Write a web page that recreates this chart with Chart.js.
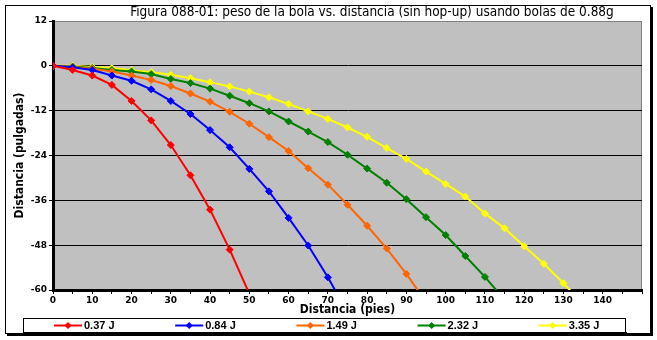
<!DOCTYPE html>
<html lang="es">
<head>
  <meta charset="UTF-8">
  <title>Figura 088-01</title>
  <script src="https://cdn.jsdelivr.net/npm/chart.js"></script>
  <style>
    body {
      margin: 0;
      background: #fff;
    }
    .container {
      width: 657px;
      height: 340px;
    }
  </style>
</head>
<body>
  <div class="container">
    <canvas id="dropChart" width="657" height="340"></canvas>
  </div>

  <script>
    // Distance in feet, one sample every 5 ft
    const distances = [0, 5, 10, 15, 20, 25, 30, 35, 40, 45, 50, 55, 60, 65, 70,
      75, 80, 85, 90, 95, 100, 105, 110, 115, 120, 125, 130, 135];

    // Drop in inches for each muzzle energy
    const drop037 = [0, -1.1, -2.6, -5.1, -9.4, -14.6, -21.2, -29.3, -38.5, -49.2, -61.0];
    const drop084 = [0, -0.4, -1.1, -2.6, -4.0, -6.3, -9.4, -12.9, -17.2, -21.8, -27.6,
      -33.6, -40.7, -48.1, -56.6, -66.0];
    const drop149 = [0, -0.3, -0.8, -1.5, -2.6, -3.8, -5.4, -7.4, -9.6, -12.3, -15.5,
      -19.1, -22.8, -27.4, -31.8, -37.2, -42.8, -48.9, -55.7, -63.2];
    const drop232 = [0, -0.2, -0.6, -1.1, -1.5, -2.2, -3.5, -4.6, -6.1, -8.0, -10.0,
      -12.2, -14.9, -17.6, -20.4, -23.8, -27.5, -31.3, -35.7, -40.5, -45.3, -50.9,
      -56.5, -62.6];
    const drop335 = [0, 0, -0.3, -0.6, -1.2, -1.7, -2.4, -3.3, -4.4, -5.5, -6.9, -8.4,
      -10.2, -12.2, -14.2, -16.5, -19.0, -22.0, -24.9, -28.3, -31.6, -35.0, -39.5,
      -43.5, -48.3, -53.0, -58.2, -63.8];

    const seriesLabels = ['0.37 J', '0.84 J', '1.49 J', '2.32 J', '3.35 J'];
    const seriesColors = ['#FF0000', '#0000FF', '#FF6600', '#008000', '#FFFF00'];
    const seriesData = [drop037, drop084, drop149, drop232, drop335];

    const yTicks = [12, 0, -12, -24, -36, -48, -60];

    const titleText = 'Figura 088-01: peso de la bola vs. distancia (sin hop-up) usando bolas de 0.88g';

    const tickFont = { family: 'DejaVu Sans', size: 9, weight: 'bold' };

    // Gray plot background, chart frame, title and boxed legend
    const frame = {
      id: 'frame',
      beforeDraw(chart) {
        const { ctx, chartArea: a } = chart;
        ctx.save();
        ctx.fillStyle = '#fff';
        ctx.fillRect(0, 0, chart.width, chart.height);
        ctx.fillStyle = '#C0C0C0';
        ctx.fillRect(a.left, a.top, a.right - a.left, a.bottom - a.top);
        ctx.strokeStyle = '#808080';
        ctx.lineWidth = 1;
        ctx.strokeRect(a.left + 0.5, a.top + 0.5, a.right - a.left - 1, a.bottom - a.top);

        // outer border with shadow
        ctx.strokeStyle = '#000';
        ctx.strokeRect(5.5, 5.5, 645, 328);
        ctx.fillStyle = '#000';
        ctx.fillRect(651, 7, 2, 329);
        ctx.fillRect(7, 334, 646, 2);

        ctx.font = '13.5px "DejaVu Sans Condensed"';
        ctx.textAlign = 'center';
        ctx.textBaseline = 'middle';
        ctx.fillText(titleText, 372, 12.5);
        ctx.restore();
      },
      afterDraw(chart) {
        const { ctx } = chart;
        ctx.save();
        ctx.fillStyle = '#fff';
        ctx.fillRect(23, 318, 603, 15);
        ctx.strokeStyle = '#000';
        ctx.lineWidth = 1;
        ctx.strokeRect(23.5, 318.5, 602, 14);
        ctx.fillStyle = '#000';
        ctx.fillRect(24, 332, 603, 2);

        const yMid = 325.5;
        chart.data.datasets.forEach((ds, i) => {
          const x0 = 54 + i * 121.2;
          ctx.strokeStyle = ds.borderColor;
          ctx.lineWidth = 2;
          ctx.beginPath();
          ctx.moveTo(x0, yMid);
          ctx.lineTo(x0 + 28, yMid);
          ctx.stroke();
          ctx.fillStyle = ds.borderColor;
          ctx.beginPath();
          ctx.moveTo(x0 + 14, yMid - 3.5);
          ctx.lineTo(x0 + 17.5, yMid);
          ctx.lineTo(x0 + 14, yMid + 3.5);
          ctx.lineTo(x0 + 10.5, yMid);
          ctx.closePath();
          ctx.fill();
          ctx.fillStyle = '#000';
          ctx.font = 'bold 11px "Liberation Sans"';
          ctx.textAlign = 'left';
          ctx.textBaseline = 'middle';
          ctx.fillText(ds.label, x0 + 30, yMid + 0.5);
        });
        ctx.restore();
      }
    };

    const ctx = document.getElementById('dropChart').getContext('2d');
    new Chart(ctx, {
      type: 'line',
      data: {
        datasets: seriesData.map((vals, i) => ({
          label: seriesLabels[i],
          data: vals.map((v, j) => ({ x: distances[j], y: v })),
          borderColor: seriesColors[i],
          backgroundColor: seriesColors[i],
          borderWidth: 2,
          pointStyle: 'rectRot',
          pointRadius: 3.5,
          pointBorderWidth: 1,
          tension: 0,
          clip: 0
        }))
      },
      options: {
        responsive: false,
        animation: false,
        events: [],
        layout: { padding: { top: 21, right: 15, left: 0, bottom: 0 } },
        plugins: {
          legend: { display: false },
          title: { display: false },
          tooltip: { enabled: false }
        },
        scales: {
          x: {
            type: 'linear',
            min: 0,
            max: 150,
            afterFit(scale) { scale.height = 50; },
            border: { display: true, color: '#000', width: 3 },
            grid: { drawOnChartArea: false, color: '#000', tickLength: 4 },
            ticks: {
              stepSize: 5,
              autoSkip: false,
              maxRotation: 0,
              color: '#000',
              font: tickFont,
              padding: 1,
              callback: v => (v % 10 === 0 && v < 150) ? String(v) : ''
            },
            title: {
              display: true,
              text: 'Distancia (pies)',
              color: '#000',
              font: { family: 'DejaVu Sans Condensed', size: 12, weight: 'bold' },
              padding: { top: 0, bottom: 23 }
            }
          },
          y: {
            min: -60,
            max: 12,
            afterFit(scale) { scale.width = 53; },
            afterBuildTicks(scale) { scale.ticks = yTicks.map(v => ({ value: v })); },
            border: { display: true, color: '#000', width: 3 },
            grid: {
              color: c => (c.tick && c.tick.value === 12) ? 'rgba(0,0,0,0)' : '#000',
              tickColor: '#000',
              tickLength: 4,
              lineWidth: 1
            },
            ticks: {
              color: '#000',
              font: tickFont,
              padding: 2
            },
            title: {
              display: true,
              text: 'Distancia (pulgadas)',
              color: '#000',
              font: { family: 'DejaVu Sans Condensed', size: 12, weight: 'bold' },
              padding: { top: 13, bottom: 0 }
            }
          }
        }
      },
      plugins: [frame]
    });
  </script>
</body>
</html>
